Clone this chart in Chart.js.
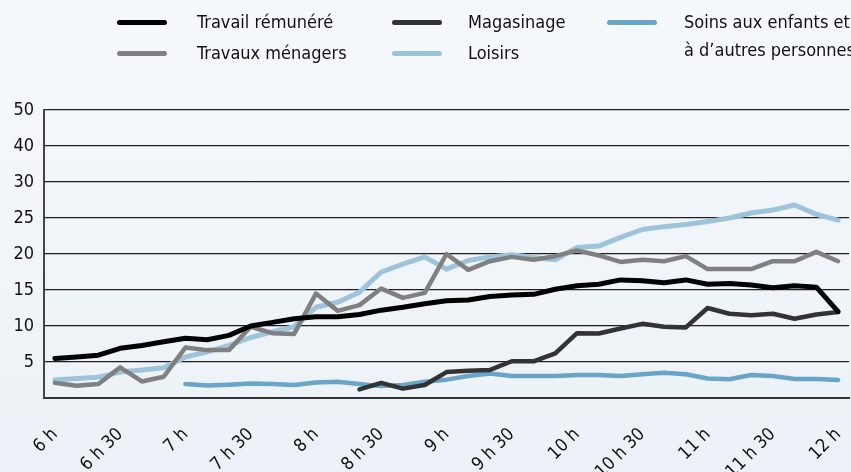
<!DOCTYPE html>
<html lang="fr">
<head>
<meta charset="utf-8">
<script src="https://cdn.jsdelivr.net/npm/chart.js@4.4.1/dist/chart.umd.min.js"></script>
<style>
  html, body { margin: 0; padding: 0; }
  body {
    width: 851px; height: 472px; overflow: hidden;
    background: linear-gradient(#f6f9fc, #ebf1f6);
    font-family: "Liberation Sans Narrow", "DejaVu Sans Condensed", sans-serif;
  }
  #cadre { position: relative; width: 851px; height: 472px; }
  #graphique { position: absolute; left: 0; top: 0; }
  .leg { position: absolute; font-size: 18px; line-height: 20px; color: #111; white-space: nowrap; }
  .trait { position: absolute; width: 50px; height: 5px; border-radius: 3px; }
</style>
</head>
<body>
<div id="cadre">
  <canvas id="graphique" width="851" height="472"></canvas>
  <div id="legende"></div>
</div>
<script>
// heures (par tranches de 10 minutes)
const heures = [
  '6 h', '6 h 10', '6 h 20', '6 h 30', '6 h 40', '6 h 50',
  '7 h', '7 h 10', '7 h 20', '7 h 30', '7 h 40', '7 h 50',
  '8 h', '8 h 10', '8 h 20', '8 h 30', '8 h 40', '8 h 50',
  '9 h', '9 h 10', '9 h 20', '9 h 30', '9 h 40', '9 h 50',
  '10 h', '10 h 10', '10 h 20', '10 h 30', '10 h 40', '10 h 50',
  '11 h', '11 h 10', '11 h 20', '11 h 30', '11 h 40', '11 h 50',
  '12 h'
];

const travail = [5.5, 5.7, 5.95, 6.9, 7.3, 7.8, 8.3, 8.1, 8.7, 10.0, 10.5, 11.0, 11.3, 11.3, 11.6, 12.2, 12.6, 13.1,
  13.5, 13.6, 14.1, 14.3, 14.4, 15.1, 15.6, 15.8, 16.4, 16.3, 16.0, 16.4, 15.8, 15.9, 15.7, 15.3, 15.6, 15.4, 12.0];
const menagers = [2.1, 1.7, 1.95, 4.25, 2.3, 2.95, 7.0, 6.65, 6.65, 9.9, 9.0, 8.9, 14.5, 12.1, 12.9, 15.2, 13.9, 14.6,
  20.0, 17.8, 19.0, 19.6, 19.2, 19.7, 20.5, 19.8, 18.9, 19.2, 19.0, 19.7, 17.9, 17.9, 17.9, 19.0, 19.0, 20.3, 19.0];
const magasinage = [null, null, null, null, null, null, null, null, null, null, null, null, null, null,
  1.2, 2.1, 1.3, 1.8, 3.6, 3.8, 3.9, 5.1, 5.1, 6.2, 9.0, 8.95, 9.65, 10.3, 9.9, 9.8, 12.5, 11.7, 11.5, 11.7, 11.0, 11.6, 11.95];
const loisirs = [2.5, 2.7, 2.9, 3.6, 3.9, 4.2, 5.7, 6.4, 7.3, 8.4, 9.2, 9.9, 12.6, 13.3, 14.7, 17.5, 18.6, 19.6,
  17.9, 19.1, 19.6, 19.9, 19.5, 19.2, 20.9, 21.1, 22.3, 23.4, 23.8, 24.1, 24.5, 25.0, 25.7, 26.1, 26.8, 25.5, 24.7];
const soins = [null, null, null, null, null, null,
  1.95, 1.75, 1.85, 2.0, 1.95, 1.8, 2.15, 2.25, 1.95, 1.65, 1.8, 2.25, 2.55, 3.05, 3.4, 3.05, 3.05, 3.05,
  3.2, 3.2, 3.05, 3.3, 3.5, 3.3, 2.7, 2.6, 3.2, 3.05, 2.65, 2.65, 2.5];

// etiquettes de l'axe vertical (une par ligne de grille, de 0 a 40)
const etiquettesY = ['', '5', '10', '15', '20', '25', '30', '40', '50'];

const police = '"Liberation Sans Narrow", "DejaVu Sans Condensed", sans-serif';

const series = [
  { label: 'Travail rémunéré', data: travail, couleur: '#000000', epaisseur: 5 },
  { label: 'Travaux ménagers', data: menagers, couleur: '#808080', epaisseur: 4.5 },
  { label: 'Magasinage', data: magasinage, couleur: '#333333', epaisseur: 4.5 },
  { label: 'Loisirs', data: loisirs, couleur: '#9ec4dc', epaisseur: 5 },
  { label: ['Soins aux enfants et', 'à d’autres personnes'], data: soins, couleur: '#68a5c8', epaisseur: 4.5 }
];

// place de chaque entree de la legende : [gauche du trait, gauche du texte, haut]
const placesLegende = [[117, 197, 12], [117, 197, 43], [392, 468, 12], [392, 468, 43], [607, 684, 12]];

var ctx = document.getElementById('graphique').getContext('2d');

var graphique = new Chart(ctx, {
  type: 'line',
  data: {
    labels: heures,
    datasets: series.map(function (s) {
      return {
        label: s.label,
        data: s.data,
        borderColor: s.couleur,
        backgroundColor: s.couleur,
        borderWidth: s.epaisseur,
        borderCapStyle: 'round',
        borderJoinStyle: 'round',
        pointRadius: 0,
        tension: 0,
        fill: false,
        spanGaps: false
      };
    })
  },
  options: {
    responsive: false,
    animation: false,
    layout: { padding: { top: 110, left: 8, right: 2, bottom: 0 } },
    plugins: { legend: { display: false }, tooltip: { enabled: false } },
    scales: {
      x: {
        offset: true,
        grid: { display: false, drawTicks: false },
        border: { color: '#333', width: 2 },
        ticks: {
          autoSkip: false, maxRotation: 45, minRotation: 45, padding: 26,
          color: '#111', font: { family: police, size: 18 },
          callback: function (v, i) { return i % 3 === 0 ? this.getLabelForValue(v) : ''; }
        },
        afterFit: function (s) { s.height = 74; s.paddingLeft = 0; s.paddingRight = 0; }
      },
      y: {
        min: 0, max: 40,
        ticks: {
          stepSize: 5, padding: 10, color: '#111', font: { family: police, size: 18 },
          callback: function (v) { return etiquettesY[v / 5]; }
        },
        grid: { color: '#1e1e1e', lineWidth: 1.3, drawTicks: false },
        border: { color: '#444', width: 2 },
        afterFit: function (s) { s.width = 36; s.paddingTop = 0; s.paddingBottom = 0; }
      }
    }
  }
});

// legende en colonnes, comme dans l'original
var legende = document.getElementById('legende');
series.forEach(function (s, i) {
  var p = placesLegende[i];
  var trait = document.createElement('span');
  trait.className = 'trait';
  trait.style.left = p[0] + 'px';
  trait.style.top = (p[2] + 8) + 'px';
  trait.style.background = s.couleur;
  legende.appendChild(trait);
  var texte = document.createElement('div');
  texte.className = 'leg';
  texte.style.left = p[1] + 'px';
  texte.style.top = p[2] + 'px';
  if (Array.isArray(s.label)) {
    texte.style.lineHeight = '28px';
    texte.style.top = (p[2] - 4) + 'px';
  }
  texte.innerHTML = [].concat(s.label).join('<br>');
  legende.appendChild(texte);
});
</script>
</body>
</html>
